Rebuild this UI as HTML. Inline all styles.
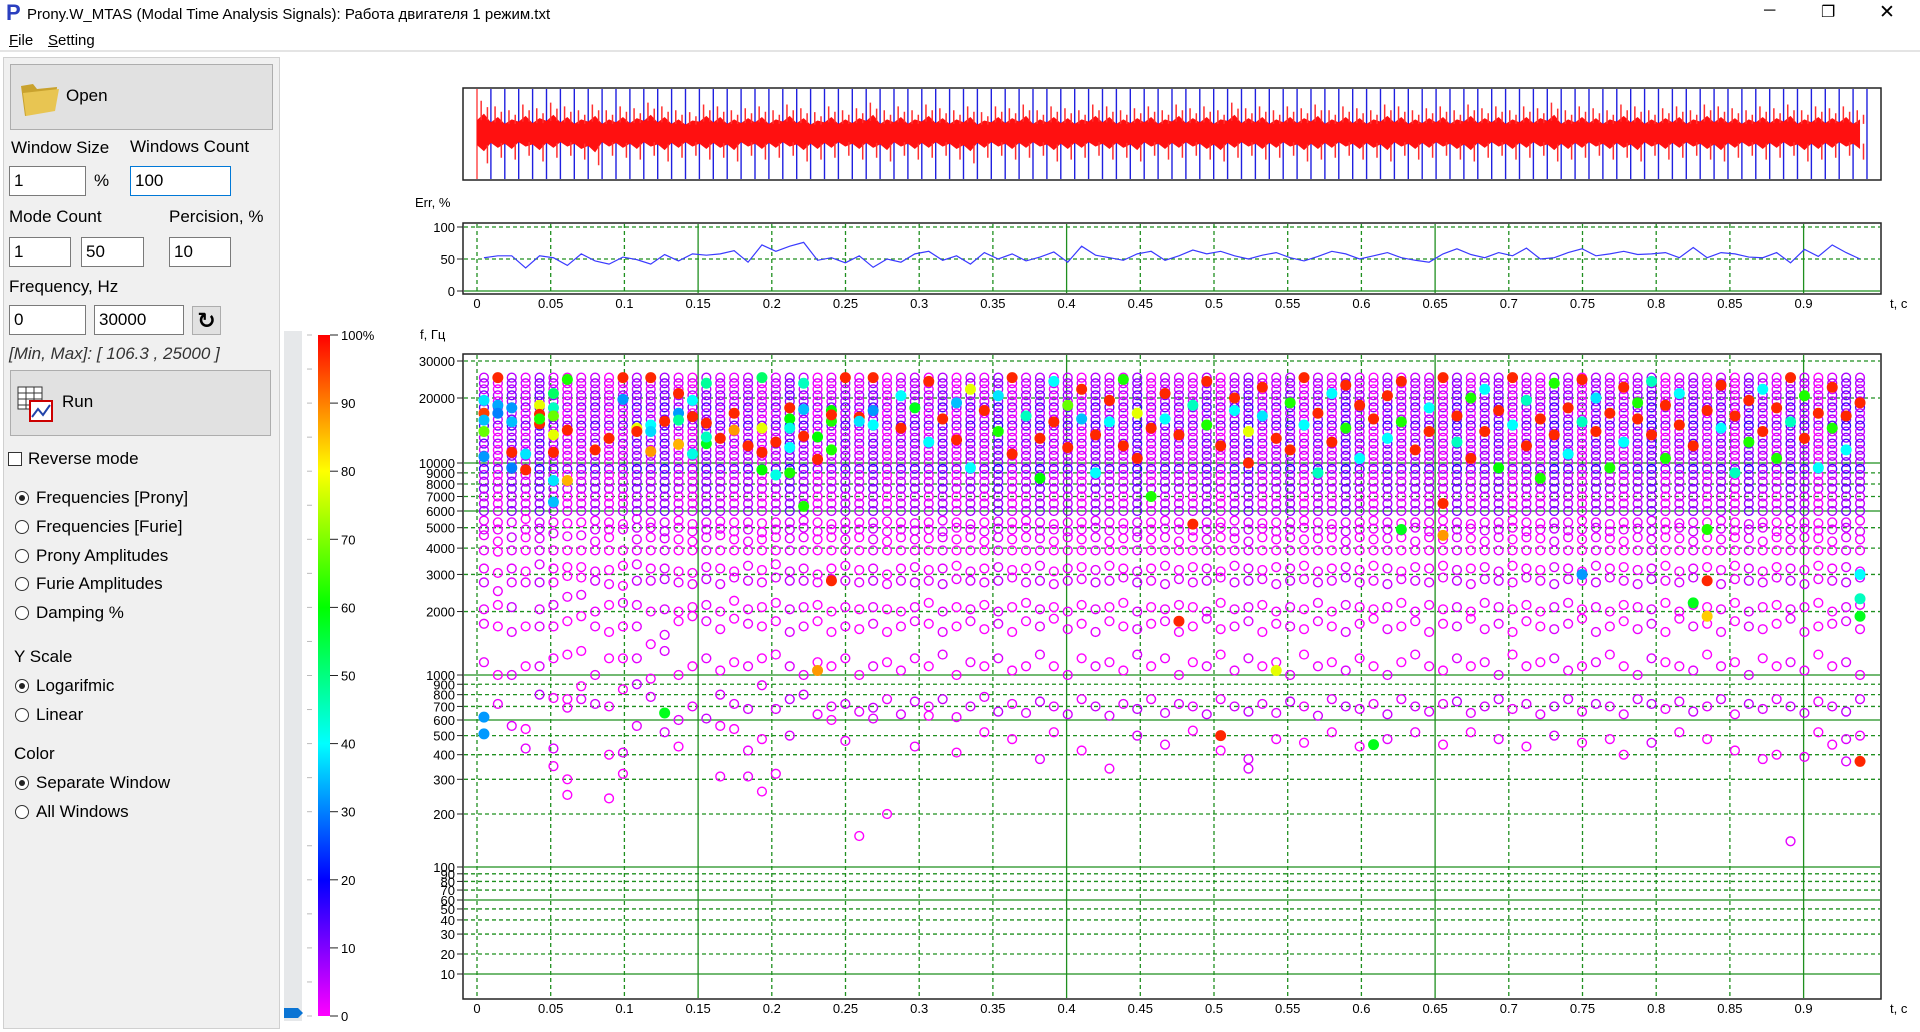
<!DOCTYPE html>
<html><head><meta charset="utf-8">
<style>
*{box-sizing:border-box;margin:0;padding:0}
body{width:1920px;height:1032px;background:#fff;font-family:"Liberation Sans","DejaVu Sans",sans-serif;position:relative;overflow:hidden;color:#000}
.abs{position:absolute}
.lbl{position:absolute;font-size:17px;white-space:nowrap}
.inp{position:absolute;background:#fff;border:1px solid #7a7a7a;font-size:17px;padding:4px 0 0 4px;height:30px}
.radio{position:absolute;width:14px;height:14px;border:1px solid #333;border-radius:50%;background:#fff}
.radio.on::after{content:"";position:absolute;left:3px;top:3px;width:6px;height:6px;border-radius:50%;background:#222}
</style></head><body>
<div class="abs" style="left:0;top:0;width:1920px;height:30px;background:#fff">
  <div class="abs" style="left:6px;top:0px;font-size:22px;font-weight:bold;color:#2a3fbf">P</div>
  <div class="abs" style="left:27px;top:6px;font-size:15px">Prony.W_MTAS (Modal Time Analysis Signals): Работа двигателя 1 режим.txt</div>
  <div class="abs" style="left:1764px;top:2px;font-size:16px">─</div>
  <div class="abs" style="left:1821px;top:2px;font-size:16px">❐</div>
  <div class="abs" style="left:1879px;top:1px;font-size:19px">✕</div>
</div>
<div class="abs" style="left:0;top:30px;width:1920px;height:22px;background:#fff;border-bottom:2px solid #e4e4e4">
  <div class="abs" style="left:9px;top:2px;font-size:15px"><u>F</u>ile</div>
  <div class="abs" style="left:48px;top:2px;font-size:15px"><u>S</u>etting</div>
</div>
<div class="abs" style="left:3px;top:57px;width:277px;height:972px;background:#f0f0f0;border:1px solid #d0d0d0">
</div>
<div class="abs" style="left:10px;top:64px;width:263px;height:66px;background:#e1e1e1;border:1px solid #adadad">
  <svg class="abs" style="left:8px;top:15px" width="42" height="38"><path d="M2 6 L14 4 L18 9 L38 7 L36 30 L6 36 Z" fill="#c9a22e"/><path d="M4 13 L40 9 L36 31 L7 36 Z" fill="#e8c552"/></svg>
  <div class="lbl" style="left:55px;top:21px">Open</div>
</div>
<div class="lbl" style="left:11px;top:138px">Window Size</div>
<div class="lbl" style="left:130px;top:137px">Windows Count</div>
<div class="inp" style="left:9px;top:166px;width:77px">1</div>
<div class="lbl" style="left:94px;top:171px">%</div>
<div class="inp" style="left:130px;top:166px;width:101px;border-color:#0078d7">100</div>
<div class="lbl" style="left:9px;top:207px">Mode Count</div>
<div class="lbl" style="left:169px;top:207px">Percision, %</div>
<div class="inp" style="left:9px;top:237px;width:62px">1</div>
<div class="inp" style="left:81px;top:237px;width:63px">50</div>
<div class="inp" style="left:169px;top:237px;width:62px">10</div>
<div class="lbl" style="left:9px;top:277px">Frequency, Hz</div>
<div class="inp" style="left:9px;top:305px;width:77px">0</div>
<div class="inp" style="left:94px;top:305px;width:90px">30000</div>
<div class="abs" style="left:192px;top:306px;width:29px;height:29px;background:#e1e1e1;border:1px solid #adadad;font-size:22px;font-weight:bold;text-align:center;line-height:27px">↻</div>
<div class="lbl" style="left:9px;top:344px;font-style:italic;color:#333">[Min, Max]: [ 106.3 , 25000 ]</div>
<div class="abs" style="left:10px;top:370px;width:261px;height:66px;background:#e1e1e1;border:1px solid #adadad">
  <svg class="abs" style="left:5px;top:14px" width="42" height="40"><rect x="2" y="2" width="24" height="22" fill="#fff" stroke="#333"/><path d="M2 8H26M2 14H26M2 20H26M10 2V24M18 2V24" stroke="#333"/><rect x="14" y="16" width="22" height="20" fill="#fff" stroke="#c00" stroke-width="2"/><path d="M16 32 L22 24 L27 30 L34 20" stroke="#24a" fill="none" stroke-width="2"/></svg>
  <div class="lbl" style="left:51px;top:21px">Run</div>
</div>
<div class="abs" style="left:8px;top:452px;width:14px;height:14px;border:1px solid #333;background:#fff"></div>
<div class="lbl" style="left:28px;top:449px">Reverse mode</div>
<div class="radio on" style="left:15px;top:491px"></div><div class="lbl" style="left:36px;top:488px">Frequencies [Prony]</div>
<div class="radio" style="left:15px;top:520px"></div><div class="lbl" style="left:36px;top:517px">Frequencies [Furie]</div>
<div class="radio" style="left:15px;top:549px"></div><div class="lbl" style="left:36px;top:546px">Prony Amplitudes</div>
<div class="radio" style="left:15px;top:577px"></div><div class="lbl" style="left:36px;top:574px">Furie Amplitudes</div>
<div class="radio" style="left:15px;top:606px"></div><div class="lbl" style="left:36px;top:603px">Damping %</div>
<div class="lbl" style="left:14px;top:647px">Y Scale</div>
<div class="radio on" style="left:15px;top:679px"></div><div class="lbl" style="left:36px;top:676px">Logarifmic</div>
<div class="radio" style="left:15px;top:708px"></div><div class="lbl" style="left:36px;top:705px">Linear</div>
<div class="lbl" style="left:14px;top:744px">Color</div>
<div class="radio on" style="left:15px;top:776px"></div><div class="lbl" style="left:36px;top:773px">Separate Window</div>
<div class="radio" style="left:15px;top:805px"></div><div class="lbl" style="left:36px;top:802px">All Windows</div>

<svg id="chart" class="abs" style="left:0;top:0" width="1920" height="1032">
<defs><linearGradient id="cmap" x1="0" y1="1" x2="0" y2="0">
<stop offset="0" stop-color="#ff00ff"/><stop offset="0.2" stop-color="#0000ff"/><stop offset="0.4" stop-color="#00ffff"/><stop offset="0.6" stop-color="#00ff00"/><stop offset="0.8" stop-color="#ffff00"/><stop offset="1" stop-color="#ff0000"/></linearGradient>
<clipPath id="fclip"><rect x="464" y="355" width="1416" height="643"/></clipPath></defs>
</svg>
<script>
// ---------- data ----------
const windowCount = 100;
const windowWidth = 0.00943;
const xTicks = [0,0.05,0.1,0.15,0.2,0.25,0.3,0.35,0.4,0.45,0.5,0.55,0.6,0.65,0.7,0.75,0.8,0.85,0.9];
const xTickLabels = ["0","0.05","0.1","0.15","0.2","0.25","0.3","0.35","0.4","0.45","0.5","0.55","0.6","0.65","0.7","0.75","0.8","0.85","0.9"];
const xSolid = [0.15,0.4,0.65,0.9];
const errTicks = [0,50,100];
const errValues = [52,55,55,36,55,52,40,58,47,42,53,49,42,57,47,58,56,58,63,45,72,62,70,76,48,52,44,55,37,50,45,58,62,48,55,42,60,50,58,47,53,61,45,70,56,52,48,58,62,48,55,64,58,62,55,50,56,60,52,47,54,62,58,50,55,60,52,48,45,58,66,57,52,60,55,67,50,52,60,66,55,58,62,57,58,60,52,68,52,60,58,53,52,60,44,65,54,72,60,50];
const sigMax = [0.85,0.7,0.6,0.75,0.65,0.8,0.7,0.6,0.75,0.6,0.7,0.65,0.8,0.7,0.6,0.55,0.75,0.7,0.6,0.65,0.7,0.6,0.75,0.65,0.55,0.7,0.6,0.65,0.8,0.6,0.7,0.6,0.75,0.65,0.6,0.7,0.55,0.7,0.65,0.75,0.6,0.7,0.65,0.6,0.75,0.7,0.6,0.65,0.7,0.6,0.75,0.65,0.7,0.6,0.8,0.65,0.7,0.6,0.7,0.65,0.75,0.6,0.7,0.65,0.6,0.75,0.7,0.6,0.65,0.7,0.6,0.75,0.65,0.7,0.6,0.7,0.65,0.8,0.6,0.7,0.65,0.6,0.75,0.7,0.6,0.65,0.7,0.6,0.75,0.7,0.65,0.6,0.7,0.65,0.75,0.6,0.7,0.65,0.7,0.6];
const sigMin = [-0.8,-0.65,-0.7,-0.6,-0.75,-0.65,-0.6,-0.7,-0.85,-0.6,-0.65,-0.7,-0.6,-0.75,-0.65,-0.6,-0.7,-0.65,-0.75,-0.6,-0.7,-0.65,-0.6,-0.75,-0.7,-0.65,-0.6,-0.7,-0.65,-0.75,-0.6,-0.7,-0.65,-0.6,-0.7,-0.8,-0.65,-0.6,-0.7,-0.65,-0.6,-0.75,-0.7,-0.65,-0.6,-0.7,-0.65,-0.75,-0.6,-0.7,-0.65,-0.6,-0.7,-0.75,-0.65,-0.6,-0.7,-0.65,-0.6,-0.75,-0.7,-0.65,-0.6,-0.7,-0.65,-0.75,-0.6,-0.7,-0.65,-0.6,-0.7,-0.75,-0.65,-0.6,-0.7,-0.65,-0.6,-0.75,-0.7,-0.65,-0.6,-0.7,-0.65,-0.75,-0.6,-0.7,-0.65,-0.6,-0.7,-0.75,-0.65,-0.6,-0.7,-0.65,-0.6,-0.75,-0.7,-0.65,-0.6,-0.7];
const fTicks = [30000,20000,10000,9000,8000,7000,6000,5000,4000,3000,2000,1000,900,800,700,600,500,400,300,200,100,90,80,70,60,50,40,30,20,10];
const fSolid = [10000,6000,1000,600,100,60,10];
const stackFreqs = [25000,23500,22000,20600,19300,18100,17000,15900,14900,14000,13100,12300,11500,10800,10100,9400,8800,8200,7600,7000,6500,6000];
const stackPct = [2,6,1,10,3,14,1,7,16,2,4,12,1,8,3,18,2,5,10,1,3,7];
const colTone = [4,-2,6,0,8,2,-2,0,4,-2,0,6,2,8,0,-2,6,2,0,4,-2,2,8,4,-2,0,4,0,6,-2,2,4,0,6,-2,4,0,8,-2,2,6,0,4,-2,6,2,0,8,-2,4,2,0,6,-2,4,8,0,2,6,-2,4,0,8,2,-2,6,0,4,2,-2,8,0,4,6,-2,2,0,8,4,-2,6,2,0,4,8,-2,2,6,0,4,-2,8,2,0,6,4,-2,2,8,4];
const midFreqs = [
[5400,4900,4600,3900,3200,2750,2050,1750,1150,620,510],[5300,4900,4300,3850,3050,2500,2150,1700,1000,720],
[5300,4500,3900,3200,2750,2100,1600,1000,560],[5500,4900,4500,3900,3100,2750,1700,1100,540,430],
[5300,4950,4450,3900,3350,2750,2050,1700,1100,800],[5300,4700,3900,3200,2750,2150,1700,1200,770,430,350],
[5250,4550,3900,3250,2950,2350,1800,1250,760,690,300,250],[5300,4600,3900,3250,2900,2400,1900,1300,880,760],
[5400,4900,4300,3900,3100,2800,2000,1700,1000,720],[5300,4900,4500,3900,3150,2700,2150,1600,1200,700,400,240],
[5200,4900,3900,3300,2650,2200,1700,1200,850,410,320],[5500,5000,4400,3900,3350,2800,2150,1700,1200,900,560],
[5300,5000,4500,3900,3200,2800,2000,1400,960,780],[5300,4800,4450,3900,3200,2850,2050,1550,1300,650,520],
[5400,5000,4400,3900,3100,2750,2000,1800,1000,600,440],[5200,4800,4300,3900,3050,2700,2100,1900,1100,700],
[5300,4900,4500,3900,3250,2850,2150,1800,1200,610],[5350,4950,4600,3900,3200,2700,2000,1650,1050,800,560,310],
[5300,4800,4400,3900,3100,2900,2250,1850,1150,720,540],[5300,4900,4300,3900,3300,2800,2050,1750,1100,680,420,310],
[5250,4750,4400,3900,3150,2750,2100,1700,1200,890,480,260],[5300,4900,4500,3900,3350,2900,2200,1800,1250,680,320],
[5300,4900,4450,3900,3100,2800,2050,1600,1100,760,500],[5400,5000,4500,3900,3200,2800,2100,1700,1000,800],
[5300,4800,4400,3900,3000,2750,2150,1800,1150,640],[5200,4900,4500,3900,3200,2850,2000,1600,1100,700,600],
[5300,4900,4400,3900,3300,2800,2100,1700,1200,720,470],[5300,4900,4500,3900,3150,2750,2050,1650,1000,660,150],
[5300,4950,4400,3900,3200,2800,2100,1750,1100,690,610],[5350,4800,4300,3900,3000,2700,2050,1600,1150,760,200],
[5300,4900,4500,3900,3200,2800,2000,1700,1050,640],[5250,4850,4400,3900,3250,2750,2100,1800,1200,740,440],
[5300,4900,4450,3900,3150,2800,2200,1750,1100,700,630],[5400,4800,4500,3900,3200,2700,2000,1600,1250,760],
[5300,5000,4400,3900,3300,2850,2100,1700,1000,620,410],[5200,4900,4500,3900,3100,2800,2050,1800,1150,700],
[5300,4800,4300,3900,3200,2750,2150,1650,1100,780,520],[5350,4950,4500,3900,3250,2800,2000,1750,1200,660],
[5300,4900,4400,3900,3150,2900,2100,1600,1050,720,480],[5400,5000,4500,3900,3200,2750,2200,1800,1100,650],
[5300,4850,4450,3900,3300,2800,2050,1700,1250,740,380],[5200,4900,4300,3900,3100,2700,2100,1850,1100,700,520],
[5300,4800,4500,3900,3200,2800,2000,1650,1000,640],[5300,4900,4400,3900,3250,2850,2150,1750,1200,760,420],
[5400,5000,4500,3900,3150,2750,2050,1600,1100,700],[5300,4850,4300,3900,3300,2800,2100,1800,1150,630,340],
[5250,4900,4450,3900,3200,2900,2200,1700,1050,720],[5300,4800,4500,3900,3100,2750,2000,1650,1250,680,500],
[5300,4900,4400,3900,3200,2800,2100,1750,1100,760],[5400,4950,4500,3900,3300,2700,2050,1800,1200,650,450],
[5300,4900,4300,3900,3150,2850,2150,1600,1000,720],[5200,4850,4500,3900,3250,2750,2100,1700,1150,700,530],
[5300,4900,4400,3900,3200,2800,2000,1850,1100,640],[5300,5000,4500,3900,3100,2900,2200,1650,1250,760,420],
[5400,4800,4450,3900,3300,2750,2050,1700,1050,700],[5300,4900,4300,3900,3200,2800,2100,1800,1200,660,380,340],
[5250,4950,4500,3900,3150,2850,2150,1600,1100,720],[5300,4800,4400,3900,3250,2700,2000,1750,1150,650,480],
[5300,4900,4500,3900,3200,2800,2100,1700,1000,740],[5400,5000,4400,3900,3300,2850,2050,1650,1250,700,460],
[5300,4850,4450,3900,3100,2750,2200,1800,1100,630],[5200,4900,4500,3900,3200,2800,2000,1700,1150,760,520],
[5300,4800,4300,3900,3250,2900,2150,1600,1050,700],[5300,4900,4500,3900,3150,2750,2100,1750,1200,680,440],
[5400,4950,4400,3900,3300,2800,2050,1850,1100,720],[5300,4900,4450,3900,3200,2700,2100,1650,1000,640,480],
[5250,4850,4500,3900,3100,2850,2200,1700,1150,760],[5300,5000,4300,3900,3250,2800,2000,1800,1250,700,520],
[5300,4800,4500,3900,3200,2750,2150,1600,1100,660],[5400,4900,4400,3900,3300,2900,2050,1750,1050,720,450],
[5300,4900,4500,3900,3150,2800,2100,1700,1200,740],[5200,4950,4450,3900,3200,2700,2000,1850,1100,650,520],
[5300,4850,4300,3900,3250,2850,2200,1650,1150,700],[5300,4900,4500,3900,3100,2800,2100,1750,1000,760,480],
[5400,5000,4400,3900,3300,2750,2050,1600,1250,680],[5300,4800,4500,3900,3200,2900,2150,1800,1100,720,440],
[5250,4900,4450,3900,3150,2800,2000,1700,1150,640],[5300,4950,4300,3900,3250,2700,2100,1650,1200,700,500],
[5300,4850,4500,3900,3200,2850,2200,1750,1050,760],[5400,4900,4400,3900,3100,2800,2050,1850,1100,660,460],
[5300,5000,4500,3900,3300,2750,2100,1600,1150,720],[5200,4800,4450,3900,3200,2900,2000,1700,1250,700,480],
[5300,4900,4300,3900,3250,2800,2150,1800,1100,640,400],[5300,4950,4500,3900,3150,2700,2100,1650,1000,760],
[5400,4850,4400,3900,3200,2850,2050,1750,1200,720,460],[5300,4900,4500,3900,3300,2800,2200,1600,1150,680],
[5250,5000,4450,3900,3100,2750,2000,1850,1100,740,520],[5300,4800,4300,3900,3200,2900,2150,1700,1050,660],
[5300,4900,4500,3900,3250,2800,2100,1750,1250,700,480],[5400,4950,4400,3900,3150,2700,2050,1600,1100,760],
[5300,4850,4500,3900,3300,2850,2200,1800,1150,640,420],[5200,4900,4450,3900,3200,2800,2000,1700,1000,720],
[5300,5000,4300,3900,3100,2750,2100,1650,1200,680,380],[5300,4800,4500,3900,3250,2900,2150,1750,1100,760,400],
[5400,4900,4400,3900,3200,2800,2050,1850,1150,700,140],[5300,4950,4500,3900,3150,2700,2100,1600,1050,650,390],
[5250,4850,4450,3900,3300,2850,2200,1700,1250,740,520],[5300,4900,4300,3900,3200,2800,2000,1750,1100,700,450],
[5300,5000,4500,3900,3250,2750,2100,1800,1150,660,480,370],[5400,4800,4400,3900,3100,2900,2150,1650,1000,760,500]
];
const filledPts = [
[0,19500,38],[0,17000,95],[0,15800,35],[0,14000,68],[0,10700,32],[0,620,32],[0,510,32],
[1,25000,97],[1,18500,33],[1,17000,30],[2,18000,32],[2,15500,35],[2,11200,97],[2,9500,30],
[3,11000,38],[3,9300,97],[4,18500,78],[4,16800,97],[4,15200,97],[4,16000,62],
[5,21000,52],[5,18000,45],[5,16500,68],[5,13500,78],[5,11200,97],[5,8300,38],[5,6600,35],
[6,24500,62],[6,8300,86],[6,14200,97],[8,11500,97],[9,13000,97],[10,25000,97],[10,19700,32],
[11,14500,78],[11,14000,97],[12,25000,97],[12,15000,40],[12,14000,37],[12,11300,88],[13,15600,97],[13,650,58],
[14,21000,97],[14,17000,32],[14,15800,48],[14,12200,86],[15,19500,40],[15,16400,97],[15,11000,42],
[16,23500,48],[16,15300,97],[16,12300,58],[16,13200,45],[17,13000,97],[18,17000,97],[18,14200,88],
[19,12000,97],[20,25000,52],[20,14500,78],[20,11200,97],[20,9300,60],[21,12500,97],[21,8800,42],
[22,18000,97],[22,16000,60],[22,14500,42],[22,11800,40],[22,9000,62],[23,23500,45],[23,17700,35],[23,13300,97],[23,6300,62],
[24,13200,60],[24,10400,97],[24,1050,88],[25,17500,60],[25,15600,62],[25,16700,97],[25,11500,62],[25,2800,97],
[26,25000,97],[27,16300,97],[27,15600,38],[28,25000,97],[28,17500,32],[28,15000,40],
[30,20500,40],[30,14500,97],[31,18000,58],[32,24000,97],[32,12500,40],[33,16000,97],[34,19000,35],[34,12800,97],
[35,22000,78],[35,9500,40],[36,17500,97],[37,14000,62],[37,20500,38],[38,25000,97],[38,11000,97],[39,16500,45],
[40,13000,97],[40,8500,60],[41,24000,40],[41,15500,97],[42,18500,68],[42,11800,97],[43,22000,97],[43,16000,35],
[44,13500,97],[44,9000,40],[45,19500,97],[45,15500,40],[46,24500,62],[46,12000,97],[47,17000,78],[47,10500,97],
[48,14500,97],[48,7000,62],[49,21000,97],[49,16000,40],[50,13500,97],[50,1800,97],[51,18500,45],[51,5200,97],
[52,24000,97],[52,15000,62],[53,12000,97],[53,500,97],[54,17500,40],[54,20000,97],[55,14000,78],[55,10000,97],
[56,22500,97],[56,16500,38],[57,13000,97],[57,1050,78],[58,19000,62],[58,11500,97],[59,25000,97],[59,15000,40],
[60,17000,97],[60,9000,45],[61,21000,40],[61,12500,97],[62,14500,62],[62,23000,97],[63,18500,97],[63,10500,40],
[64,16000,97],[64,450,58],[65,13000,40],[65,20500,97],[66,24000,97],[66,4900,58],[66,15500,62],[67,11500,97],
[68,18000,40],[68,14000,97],[69,25000,97],[69,6500,97],[69,4600,88],[70,16500,97],[70,12500,45],[71,20000,62],
[71,10500,97],[72,14000,97],[72,22000,40],[73,17500,97],[73,9500,60],[74,25000,97],[74,15000,40],[75,12000,97],
[75,19500,45],[76,16000,97],[76,8500,62],[77,23500,62],[77,13500,97],[78,18000,97],[78,11000,40],[79,24500,97],
[79,15500,45],[79,3000,32],[80,14000,97],[80,20000,38],[81,17000,97],[81,9500,62],[82,22500,97],[82,12500,40],
[83,16000,97],[83,19000,62],[84,13500,97],[84,24000,45],[85,18500,97],[85,10500,62],[86,15000,97],[86,21000,40],
[87,12000,97],[87,2200,58],[88,17500,97],[88,2800,97],[88,1900,84],[88,4900,62],[89,23000,97],[89,14500,40],
[90,16500,97],[90,9000,45],[91,19500,97],[91,12500,62],[92,14000,97],[92,22000,40],[93,18000,97],[93,10500,62],
[94,25000,97],[94,15500,45],[95,13000,97],[95,20500,62],[96,17000,97],[96,9500,40],[97,22500,97],[97,14500,62],
[98,16500,97],[98,11500,40],[99,19000,97],[99,3000,40],[99,2300,45],[99,1900,58],[99,370,97]
];
// ---------- scales ----------
const X0 = 477, XS = 1474;
function xScale(t){ return X0 + XS*t; }
function errY(v){ return 291 - v*0.64; }
function sigY(v){ return 133 - v*38; }
const fKnots = [[30000,361],[20000,398],[10000,463],[6000,511],[1000,675],[600,720],[200,814],[100,867],[60,900],[20,954],[10,974]];
function fScale(f){
  for(let i=0;i<fKnots.length-1;i++){
    const [f1,y1]=fKnots[i],[f2,y2]=fKnots[i+1];
    if(f<=f1 && f>=f2){ return y1+(y2-y1)*Math.log(f1/f)/Math.log(f1/f2); }
  }
  return f>30000?361:990;
}
function cmap(p){
  const st=[[0,[255,0,255]],[20,[0,0,255]],[40,[0,255,255]],[60,[0,255,0]],[80,[255,255,0]],[100,[255,0,0]]];
  p=Math.max(0,Math.min(100,p));
  for(let i=0;i<st.length-1;i++){ if(p<=st[i+1][0]){ const a=st[i],b=st[i+1],k=(p-a[0])/(b[0]-a[0]);
    return 'rgb('+a[1].map((c,j)=>Math.round(c+(b[1][j]-c)*k)).join(',')+')'; } }
  return 'rgb(255,0,0)';
}
function winT(i){ return (i+0.5)*windowWidth; }
// ---------- drawing ----------
const svg=document.getElementById('chart');
const NS='http://www.w3.org/2000/svg';
function mk(tag,attrs,parent){ const e=document.createElementNS(NS,tag); for(const k in attrs) e.setAttribute(k,attrs[k]); (parent||svg).appendChild(e); return e; }
function txt(x,y,s,anchor,size,parent){ const e=mk('text',{x:x,y:y,'text-anchor':anchor||'middle','font-size':size||14,'font-family':'Liberation Sans, sans-serif',fill:'#000'},parent); e.textContent=s; return e; }
const GREEN='#1f8f1f';

// signal panel
const sigG=mk('g',{});


mk('rect',{x:463,y:88,width:1418,height:92,fill:'#fff',stroke:'#222','stroke-width':1.5},sigG);
for(let i=0;i<=windowCount;i++){
  const bl=mk('line',{x1:xScale(i*windowWidth),x2:xScale(i*windowWidth),y1:89,y2:179,stroke:i==0?'#ff4040':'#2020e0','stroke-width':1.4},sigG);
  
  
}
let pts=[];
for(let i=0;i<windowCount;i++){ pts.push(xScale(i*windowWidth)+','+sigY(sigMax[i]*0.4)); pts.push(xScale(winT(i))+','+sigY(sigMax[i]*0.6)); }
for(let i=windowCount-1;i>=0;i--){ pts.push(xScale(winT(i))+','+sigY(sigMin[i]*0.6)); pts.push(xScale(i*windowWidth)+','+sigY(sigMin[i]*0.4)); }
const sig=mk('polygon',{points:pts.join(' '),fill:'#ff1010'},sigG);


for(let i=0;i<windowCount;i++){
  const x1=xScale(i*windowWidth+windowWidth*0.3), x2=xScale(i*windowWidth+windowWidth*0.75);
  const sp=mk('path',{d:'M'+x1+' '+sigY(sigMax[i]*0.4)+' V'+sigY(sigMax[i])+' M'+x2+' '+sigY(sigMin[i]*0.4)+' V'+sigY(sigMin[i])+' M'+x2+' '+sigY(sigMax[i]*0.4)+' V'+sigY(sigMax[i]*0.8),stroke:'#ff3030','stroke-width':1.5,fill:'none'},sigG);
  
  
}

// err panel
const errG=mk('g',{});


const el1=txt(415,207,'Err, %','start',13,errG);


mk('rect',{x:463,y:223,width:1418,height:71,fill:'#fff',stroke:'#222','stroke-width':1.5},errG);
xTicks.forEach((t,i)=>{
  const solid=xSolid.includes(t);
  mk('line',{x1:xScale(t),x2:xScale(t),y1:224,y2:293,stroke:GREEN,'stroke-width':1.3,'stroke-dasharray':solid?'':'4,3'},errG);
  const l=txt(xScale(t),308,xTickLabels[i],'middle',13,errG);
  
  
});
errTicks.forEach(v=>{
  mk('line',{x1:464,x2:1880,y1:errY(v),y2:errY(v),stroke:GREEN,'stroke-width':1.3,'stroke-dasharray':v==0?'':'4,3'},errG);
  mk('line',{x1:457,x2:463,y1:errY(v),y2:errY(v),stroke:'#222'},errG);
  const l=txt(455,errY(v)+5,String(v),'end',13,errG);
  
  
});
const errLine=mk('polyline',{points:errValues.map((v,i)=>xScale(winT(i))+','+errY(v)).join(' '),fill:'none',stroke:'#3a3aff','stroke-width':1.2},errG);


const tc1=txt(1890,308,'t, c','start',13,errG);



// frequency panel
const fG=mk('g',{});


const fl=txt(420,339,'f, Гц','start',13,fG);


mk('rect',{x:463,y:354,width:1418,height:645,fill:'#fff',stroke:'#222','stroke-width':1.5},fG);
xTicks.forEach((t,i)=>{
  const solid=xSolid.includes(t);
  mk('line',{x1:xScale(t),x2:xScale(t),y1:355,y2:998,stroke:GREEN,'stroke-width':1.3,'stroke-dasharray':solid?'':'4,3'},fG);
  const l=txt(xScale(t),1013,xTickLabels[i],'middle',13,fG);
  
  
});
fTicks.forEach(f=>{
  const y=fScale(f), solid=fSolid.includes(f);
  mk('line',{x1:464,x2:1880,y1:y,y2:y,stroke:GREEN,'stroke-width':1.3,'stroke-dasharray':solid?'':'4,3'},fG);
  mk('line',{x1:457,x2:463,y1:y,y2:y,stroke:'#222'},fG);
  const l=txt(455,y+5,String(f),'end',13,fG);
  
  
});
const tc2=txt(1890,1013,'t, c','start',13,fG);


const marks=mk('g',{'clip-path':'url(#fclip)'},fG);
for(let i=0;i<windowCount;i++){
  const cx=xScale(winT(i));
  stackFreqs.forEach((f,j)=>{
    const c=mk('circle',{cx:cx,cy:fScale(f),r:4.4,fill:'none',stroke:cmap((stackPct[j]+colTone[i])*0.7),'stroke-width':1.4},marks);
    
    
  });
  (midFreqs[i]||[]).forEach((f,j)=>{
    const c=mk('circle',{cx:cx,cy:fScale(f),r:4.4,fill:'none',stroke:cmap(Math.max(0,(colTone[i]+(j%4==1?6:0))*0.35)),'stroke-width':1.4},marks);
    
    
  });
}
filledPts.forEach(p=>{
  const c=mk('circle',{cx:xScale(winT(p[0])),cy:fScale(p[1]),r:5,fill:cmap(p[2]),stroke:cmap(p[2]),'stroke-width':1},marks);
  
  
});

// colorbar
const cbG=mk('g',{});


const track=mk('rect',{x:284,y:331,width:18,height:690,fill:'#e6e8ea'},cbG);


const thumb=mk('path',{d:'M284 1008 H298 L303 1013 L298 1018 H284 Z',fill:'#0a74d4'},cbG);


mk('rect',{x:318,y:335,width:12,height:681,fill:'url(#cmap)'},cbG);
for(let p=0;p<=100;p+=5){
  const y=1016-p*6.81;
  mk('line',{x1:307,x2:312,y1:y,y2:y,stroke:'#bbb'},cbG);
  if(p%10==0){
    mk('line',{x1:330,x2:338,y1:y,y2:y,stroke:'#222'},cbG);
    const l=txt(341,y+5,p==100?'100%':String(p),'start',13,cbG);
    
    
  }
}
</script>
</body></html>
